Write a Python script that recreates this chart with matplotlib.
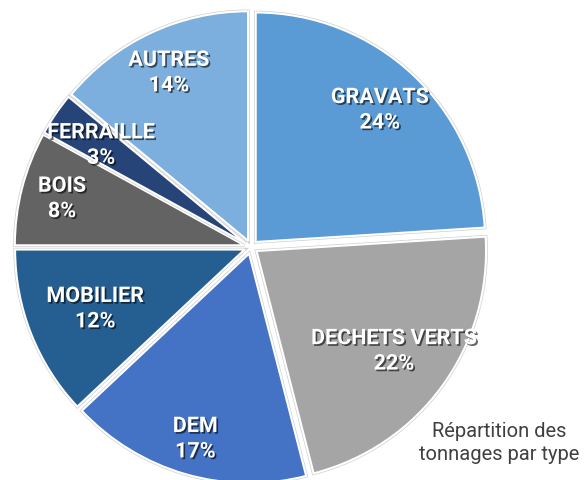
import numpy as np
import matplotlib
matplotlib.use("Agg")
import matplotlib.pyplot as plt
import matplotlib.patheffects as pe

categories = ["GRAVATS", "DECHETS VERTS", "DEM", "MOBILIER", "BOIS", "FERRAILLE", "AUTRES"]
values = [24, 22, 17, 12, 8, 3, 14]
colors = ["#5B9BD5", "#A5A5A5", "#4472C4", "#255E91", "#636363", "#264478", "#7CAFDD"]
label_radius = [0.79, 0.74, 0.84, 0.70, 0.82, 0.76, 0.81]

fig = plt.figure(figsize=(5.84, 4.81), dpi=100)
ax = fig.add_axes([0, 0, 1, 1])

wedges, _ = ax.pie(values, colors=colors, startangle=90, counterclock=False,
                   explode=[0.03] * len(values), radius=1.0,
                   wedgeprops=dict(edgecolor="white", linewidth=1.5))
for w in wedges:
    w.set_path_effects([pe.Stroke(linewidth=2.5, foreground="#d0d0d0"), pe.Normal()])

shadow = [pe.withSimplePatchShadow(offset=(1.2, -1.2), shadow_rgbFace="black", alpha=0.6)]
for w, cat, v, r in zip(wedges, categories, values, label_radius):
    ang = np.deg2rad((w.theta1 + w.theta2) / 2)
    cx, cy = w.center
    ax.text(cx + r * np.cos(ang), cy + r * np.sin(ang), f"{cat}\n{v}%",
            ha="center", va="center", color="white", fontsize=15.5,
            fontweight="bold", family="Roboto", linespacing=1.2,
            path_effects=shadow)

s = 229.5
ax.set_xlim(-251 / s, (584 - 251) / s)
ax.set_ylim(-(481 - 248) / s, 248 / s)
ax.set_aspect("equal")
ax.axis("off")

fig.text(499 / 584, 1 - 443 / 481, "Répartition des\ntonnages par type", ha="center",
         va="center", fontsize=14.5, color="#404040", family="Roboto", linespacing=1.25)

fig.savefig("out.png", dpi=100)
